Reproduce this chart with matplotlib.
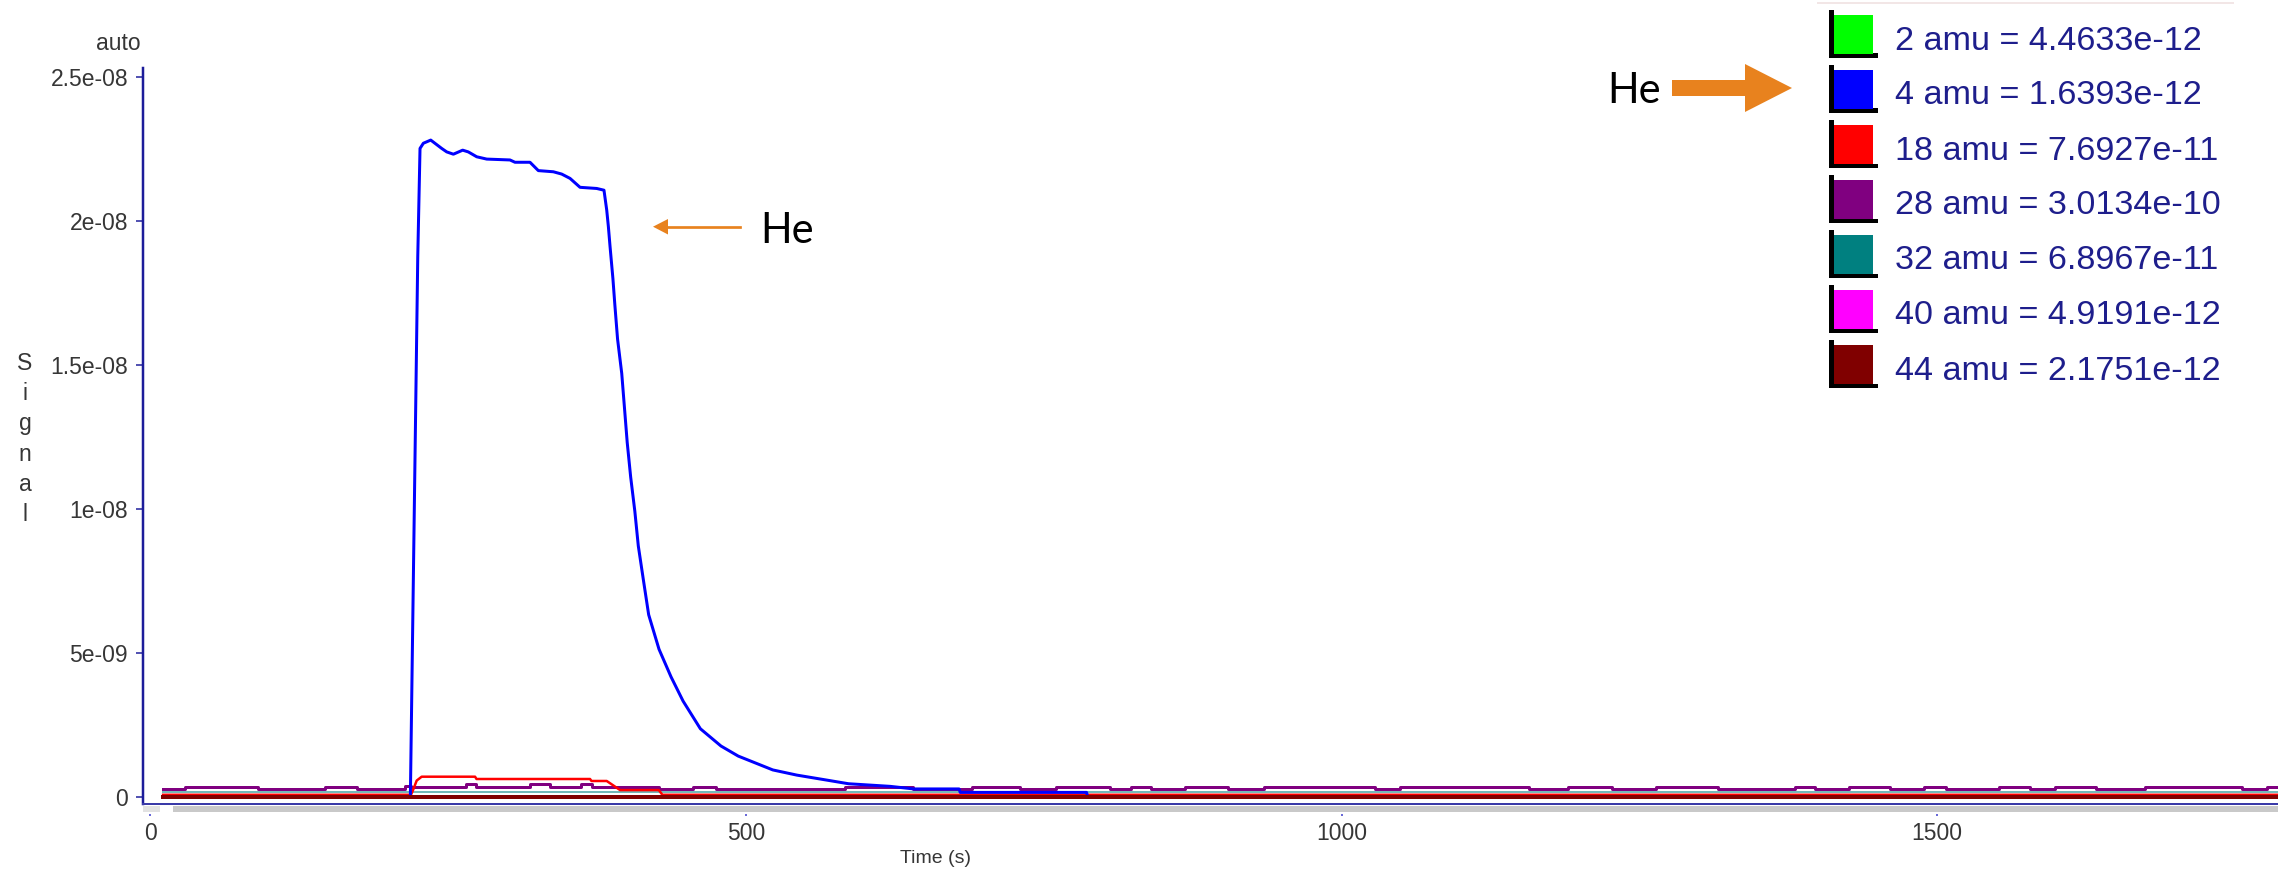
import matplotlib
matplotlib.use("Agg")
import matplotlib.pyplot as plt
from matplotlib.patches import Rectangle, Polygon
from matplotlib.lines import Line2D

# ---------------------------------------------------------------- data ----
masses = [2, 4, 18, 28, 32, 40, 44]
current_values = [4.4633e-12, 1.6393e-12, 7.6927e-11, 3.0134e-10,
                  6.8967e-11, 4.9191e-12, 2.1751e-12]
trace_colors = ['#00ff00', '#0000ff', '#ff0000', '#800080',
                '#008080', '#ff00ff', '#800000']

# 4 amu (He)
t_he = [11, 218.5, 224.7, 226.6, 229.4, 235.6, 244.8, 249.0, 254.6, 262.4,
        267.1, 274.2, 282.6, 302.1, 306.3, 318.9, 325.9, 338.5, 345.5, 352.5,
        360.9, 374.9, 381.0, 383.3, 384.7, 386.1, 388.5, 390.1, 392.4, 395.9,
        398.2, 400.5, 403.4, 406.9, 409.8, 414.1, 418.5, 427.2, 437.3, 447.4,
        461.9, 479.2, 493.7, 508.2, 522.7, 542.9, 566.1, 586.3, 621.1, 641,
        679, 680, 786, 787, 1800]
he = [1.6e-12, 1.6e-12, 1.875e-8, 2.252e-8, 2.270e-8, 2.281e-8, 2.252e-8,
      2.240e-8, 2.232e-8, 2.246e-8, 2.240e-8, 2.223e-8, 2.215e-8, 2.212e-8,
      2.204e-8, 2.204e-8, 2.175e-8, 2.171e-8, 2.163e-8, 2.148e-8, 2.117e-8,
      2.113e-8, 2.107e-8, 2.038e-8, 1.980e-8, 1.911e-8, 1.800e-8, 1.710e-8,
      1.590e-8, 1.471e-8, 1.351e-8, 1.231e-8, 1.111e-8, 0.992e-8, 0.872e-8,
      0.753e-8, 0.633e-8, 0.513e-8, 0.417e-8, 0.333e-8, 0.237e-8, 0.177e-8,
      0.142e-8, 0.118e-8, 0.094e-8, 0.076e-8, 0.060e-8, 0.046e-8, 0.037e-8,
      0.028e-8, 0.028e-8, 0.016e-8, 0.016e-8, 1.6e-12, 1.6e-12]

# 18 amu (H2O)
t_h2o = [11, 219, 221, 223.8, 228, 272.8, 274, 369.3, 370.5, 383.3, 388.9,
         394.5, 427, 430, 1800]
h2o = [7.7e-11, 7.7e-11, 2.67e-10, 5.7e-10, 7.05e-10, 7.05e-10, 6.25e-10,
       6.25e-10, 5.56e-10, 5.56e-10, 4.0e-10, 2.4e-10, 2.4e-10, 7.7e-11,
       7.7e-11]

# 28 amu (N2), stepped readout
t_n2 = [11, 29, 91, 147, 174, 214, 219, 265, 274, 319, 336, 362, 371, 388,
        427, 456, 475, 583, 640, 690, 730, 760, 806, 823, 840, 869, 905, 935,
        1028, 1049, 1157, 1190, 1227, 1264, 1316, 1381, 1397, 1426, 1460,
        1489, 1507, 1552, 1578, 1599, 1633, 1674, 1756, 1777, 1800]
n2 = [2.8e-10, 3.6e-10, 2.8e-10, 3.6e-10, 2.8e-10, 3.8e-10, 3.4e-10,
      4.4e-10, 3.4e-10, 4.4e-10, 3.4e-10, 4.4e-10, 3.4e-10, 3.6e-10,
      2.8e-10, 3.6e-10, 2.8e-10, 3.6e-10, 2.8e-10, 3.6e-10, 2.8e-10,
      3.6e-10, 2.8e-10, 3.6e-10, 2.8e-10, 3.6e-10, 2.8e-10, 3.6e-10,
      2.8e-10, 3.6e-10, 2.8e-10, 3.6e-10, 2.8e-10, 3.6e-10, 2.8e-10,
      3.6e-10, 2.8e-10, 3.6e-10, 2.8e-10, 3.6e-10, 2.8e-10, 3.6e-10,
      2.8e-10, 3.6e-10, 2.8e-10, 3.6e-10, 2.8e-10, 3.6e-10, 3.6e-10]

# flat traces: 2, 32, 40, 44 amu
t_flat = [11, 1800]
h2 = [4.5e-12, 4.5e-12]
o2 = [1.6e-10, 1.6e-10]
ar = [4.9e-12, 4.9e-12]
co2 = [2.2e-12, 2.2e-12]

xticks = [0, 500, 1000, 1500]
yticks = [0, 5e-9, 1e-8, 1.5e-8, 2e-8, 2.5e-8]
ytick_labels = ['0', '5e-09', '1e-08', '1.5e-08', '2e-08', '2.5e-08']

# ---------------------------------------------------------------- figure --
W, H, DPI = 2278, 881, 100
PX = 72.0 / DPI  # points per pixel

plt.rcParams['font.family'] = ['Liberation Sans', 'DejaVu Sans']
axis_fs = 16.5
axis_col = '#363636'
frame_col = '#1c1c9a'

fig = plt.figure(figsize=(W / DPI, H / DPI), dpi=DPI)
fig.patch.set_facecolor('white')


def fx(x):
    return x / W


def fy(y):
    return 1 - y / H


ax_l, ax_r, ax_t, ax_b = 143, 2278, 68, 804
ax = fig.add_axes([ax_l / W, 1 - ax_b / H, (ax_r - ax_l) / W, (ax_b - ax_t) / H])
ax.set_xlim(-5.9, 1786.0)
ax.set_ylim(-2.43e-10, 2.5313e-8)

ax.plot(t_flat, h2, color=trace_colors[0], lw=2 * PX, zorder=1.8)
ax.plot(t_flat, ar, color=trace_colors[5], lw=2 * PX, zorder=1.9)
ax.plot(t_flat, o2, color=trace_colors[4], lw=2 * PX, alpha=0.55, zorder=2.0)
ax.step(t_n2, n2, where='post', color=trace_colors[3], lw=3 * PX, zorder=2.1)
ax.plot(t_h2o, h2o, color=trace_colors[2], lw=2.5 * PX, zorder=2.2)
ax.plot(t_he, he, color=trace_colors[1], lw=3 * PX, zorder=2.3)
ax.plot(t_flat, co2, color=trace_colors[6], lw=4 * PX, zorder=2.4)

for s in ('top', 'right'):
    ax.spines[s].set_visible(False)
ax.spines['left'].set_color(frame_col)
ax.spines['left'].set_linewidth(2.5 * PX)
ax.spines['bottom'].set_position(('outward', 10 * PX))
ax.spines['bottom'].set_visible(False)

# visible bottom frame line
ax.plot([0, 1], [0, 0], transform=ax.transAxes, color='#3a3aa8',
        lw=2 * PX, clip_on=False, zorder=3)

ax.set_xticks(xticks)
ax.set_xticklabels([str(v) for v in xticks])
ax.set_yticks(yticks)
ax.set_yticklabels(ytick_labels)
ax.tick_params(axis='x', length=2 * PX, width=2 * PX, color='#6a6ad8',
               pad=6 * PX, labelsize=axis_fs, labelcolor=axis_col)
ax.tick_params(axis='y', length=7 * PX, width=1.5 * PX, color=frame_col,
               pad=8 * PX, labelsize=axis_fs, labelcolor=axis_col)

ax.set_ylabel('S\ni\ng\nn\na\nl', rotation=0, fontsize=axis_fs, color=axis_col,
              ha='center', va='center', linespacing=1.40)
ax.yaxis.set_label_coords((25 - ax_l) / (ax_r - ax_l), (ax_b - 439) / (ax_b - ax_t))
ax.set_xlabel('Time (s)', fontsize=14, color=axis_col, va='top')
ax.xaxis.set_label_coords((936 - ax_l) / (ax_r - ax_l), (ax_b - 850) / (ax_b - ax_t))
fig.text(fx(141), fy(50), 'auto', ha='right', va='baseline',
         fontsize=axis_fs, color=axis_col)


def fig_rect(x0, y0, x1, y1, color, z=5):
    fig.add_artist(Rectangle((fx(x0), fy(y1)), (x1 - x0) / W, (y1 - y0) / H,
                             transform=fig.transFigure, facecolor=color,
                             edgecolor='none', zorder=z))


# scroll strip under the time axis
fig_rect(173, 806, 2278, 811.5, '#c9c9c9')
fig_rect(143, 806, 160, 811.5, '#e2e2e2')

# legend block
fig.add_artist(Line2D([fx(1818), fx(2233)], [fy(3), fy(3)],
                      transform=fig.transFigure, color='#f2e6e6', lw=2 * PX))
legend_col = '#1e1e8c'
for i, (m, v, c) in enumerate(zip(masses, current_values, trace_colors)):
    oy = 55 * i
    fig_rect(1829, 10 + oy, 1833.5, 58 + oy, 'black')
    fig_rect(1829, 53.5 + oy, 1878, 58 + oy, 'black')
    fig_rect(1833.5, 15 + oy, 1873, 53.5 + oy, c)
    fig.text(fx(1895), fy(49.5 + oy), f'{m} amu = {v:.4e}', ha='left',
             va='baseline', fontsize=24.6, color=legend_col)

# He call-outs
orange = '#e8821e'
he_font = ['Lato', 'DejaVu Sans']
fig.text(fx(1634.5), fy(103), 'He', ha='center', va='baseline',
         fontsize=30, family=he_font, color='black')
fig.add_artist(Polygon([(fx(1672), fy(80)), (fx(1745), fy(80)), (fx(1745), fy(64)),
                        (fx(1792), fy(88)), (fx(1745), fy(112)), (fx(1745), fy(96)),
                        (fx(1672), fy(96))], closed=True, transform=fig.transFigure,
                       facecolor=orange, edgecolor='none'))

fig.text(fx(787), fy(243), 'He', ha='center', va='baseline',
         fontsize=30, family=he_font, color='black')
fig.add_artist(Line2D([fx(740), fx(665)], [fy(226.7), fy(226.7)],
                      transform=fig.transFigure, color=orange, lw=2.7 * PX))
fig.add_artist(Polygon([(fx(653), fy(226.7)), (fx(668), fy(219)), (fx(668), fy(234.5))],
                       closed=True, transform=fig.transFigure,
                       facecolor=orange, edgecolor='none'))

fig.savefig('out.png', dpi=DPI, facecolor='white')
